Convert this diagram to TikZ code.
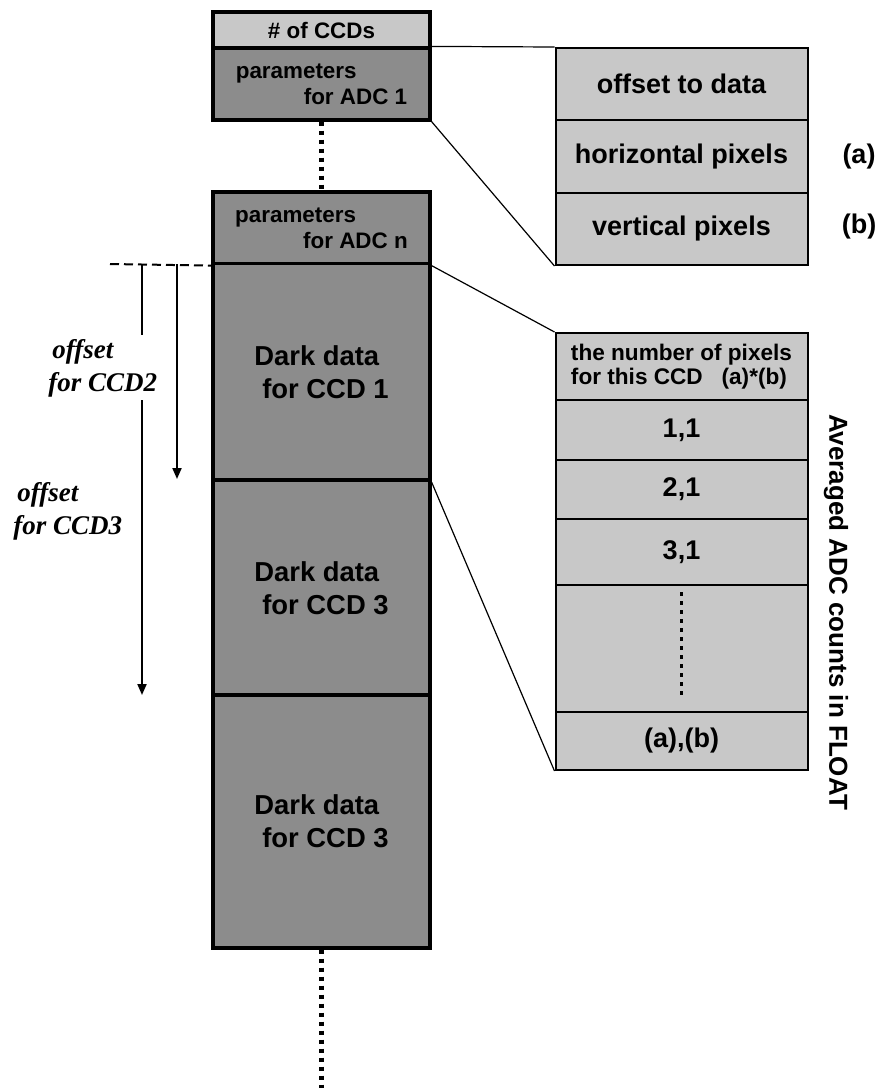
\documentclass[tikz,border=0pt]{standalone}
\usepackage{fontspec}
\setmainfont{Liberation Serif}
\setsansfont{Liberation Sans}
\usetikzlibrary{arrows.meta}
\definecolor{paramgray}{RGB}{140,140,140}
\definecolor{fieldgray}{RGB}{200,200,200}
\tikzset{
    blk/.style={draw, line width=1.6pt, fill=paramgray, minimum width=108.5pt, inner sep=0pt,
        align=left, font=\sffamily\bfseries\fontsize{11.2}{13}\selectfont},
    darkblk/.style={blk, font=\sffamily\bfseries\fontsize{13.7}{16.5}\selectfont},
    field/.style={draw, line width=1pt, fill=fieldgray, minimum width=126pt, inner sep=0pt,
        font=\sffamily\bfseries\fontsize{13.5}{16}\selectfont},
    offlabel/.style={anchor=west, align=left, inner sep=0pt,
        font=\rmfamily\bfseries\itshape\fontsize{13.5}{16.5}\selectfont},
    dots/.style={line width=2.2pt, dash pattern=on 2pt off 2.5pt},
    zoomline/.style={line width=0.6pt},
    offarrow/.style={line width=1pt, -{Triangle[length=5.5pt,width=4.5pt]}}
}
\begin{document}
\begin{tikzpicture}[x=0.5pt, y=-0.5pt]
        \useasboundingbox (0,0) rectangle (883,1088);

        \node[blk, fill=fieldgray, minimum height=18pt] (ccds) at (321.5, 30) {\# of CCDs};
        \node[blk, minimum height=36pt] (adc1) at (321.5, 84) {parameters\\\hspace*{34pt}for ADC 1};
        \node[blk, minimum height=36pt] (adcn) at (321.5, 228) {parameters\\\hspace*{34pt}for ADC n};
        \node[darkblk, minimum height=108.5pt] (dark1) at (321.5, 372) {Dark data\\\hspace*{4pt}for CCD 1};
        \node[darkblk, minimum height=108pt] (dark2) at (321.5, 588) {Dark data\\\hspace*{4pt}for CCD 3};
        \node[darkblk, minimum height=126.5pt] (dark3) at (321.5, 821.5) {Dark data\\\hspace*{4pt}for CCD 3};
        \coordinate (tail) at (321.5, 1088);

        \node[field, minimum height=36pt] (offdata) at (681.5, 84) {offset to data};
        \node[field, minimum height=36.5pt] (hpix) at (681.5, 156.5) {horizontal pixels};
        \node[field, minimum height=36pt] (vpix) at (681.5, 229) {vertical pixels};
        \node[font=\sffamily\bfseries\fontsize{13.5}{16}\selectfont] (a) at (859, 157) {(a)};
        \node[font=\sffamily\bfseries\fontsize{13.5}{16}\selectfont] (b) at (859, 227) {(b)};

        \node[field, minimum height=33.5pt, align=left, font=\sffamily\bfseries\fontsize{11.3}{12}\selectfont]
            (npix) at (681.5, 366.5) {the number of pixels\\for this CCD~~~(a)*(b)};
        \node[field, minimum height=30pt] (p11) at (681.5, 430) {1,1};
        \node[field, minimum height=29.5pt] (p21) at (681.5, 489.5) {2,1};
        \node[field, minimum height=33pt] (p31) at (681.5, 552) {3,1};
        \node[field, minimum height=63.5pt] (pdots) at (681.5, 648.5) {};
        \node[field, minimum height=29pt] (plast) at (681.5, 741) {(a),(b)};
        \node[rotate=-90, font=\sffamily\bfseries\fontsize{13}{16}\selectfont] (float) at (836, 612)
            {Averaged ADC counts in FLOAT};

        \draw[dots] (adc1) -- (adcn);
        \draw[dots] (dark3) -- (tail);
        \draw[line width=1.5pt, dash pattern=on 2pt off 2.5pt] ([yshift=-4pt]pdots.north) -- ([yshift=7pt]pdots.south);

        \draw[zoomline] (adc1.north east) -- (offdata.north west);
        \draw[zoomline] (adc1.south east) -- (vpix.south west);
        \draw[zoomline] (adcn.south east) -- (npix.north west);
        \draw[zoomline] (dark1.south east) -- (plast.south west);

        \coordinate (start) at (110, 264);
        \coordinate (o3top) at (142, 264);
        \coordinate (o3gap) at (142, 335);
        \coordinate (o3from) at (142, 400);
        \coordinate (o3end) at (142, 695);
        \coordinate (o2top) at (177, 264);
        \coordinate (o2end) at (177, 479);
        \draw[line width=1pt, dash pattern=on 4.5pt off 2.5pt] (start) -- (adcn.south west);
        \draw[line width=1pt] (o3top) -- (o3gap);
        \draw[offarrow] (o3from) -- (o3end);
        \draw[offarrow] (o2top) -- (o2end);

        \node[offlabel] (off2) at (48, 368) {\hspace*{2pt}offset\\for CCD2};
        \node[offlabel] (off3) at (13, 511) {\hspace*{2pt}offset\\for CCD3};
\end{tikzpicture}
\end{document}
